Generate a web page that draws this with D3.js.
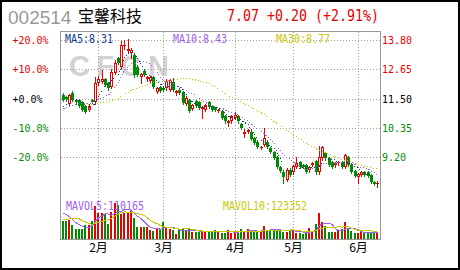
<!DOCTYPE html>
<html>
<head>
<meta charset="utf-8">
<script src="https://cdn.jsdelivr.net/npm/d3@7"></script>
<style>
body { margin: 0; background: #fff; }
svg { display: block; }
</style>
</head>
<body>
<div id="container"></div>
<script>
var WIDTH = 460,
	HEIGHT = 270,
	PLOT_LEFT = 60,
	PLOT_RIGHT = 380,
	PLOT_TOP = 31,
	PLOT_BOTTOM = 239;

var RED = '#e60000', GREEN = '#008c00';
var MONO = "'DejaVu Sans Mono', 'Liberation Mono', monospace";
var CJK = "'Noto Sans CJK SC', 'Noto Sans', sans-serif";

// daily prices, oldest first
var open = [11.62, 11.55, 11.28, 11.72, 11.45, 11.44, 11.36, 11.22, 11.05, 11.45,
	11.36, 12.10, 12.15, 12.25, 12.10, 11.95, 12.50, 13.10, 12.75, 13.55,
	13.35, 13.30, 13.20, 12.75, 12.35, 12.60, 12.28, 12.20, 12.35, 11.77,
	11.95, 11.90, 11.90, 11.85, 12.15, 11.70, 11.85, 11.75, 11.30, 11.45,
	11.10, 11.40, 11.35, 11.10, 11.05, 11.35, 11.20, 11.15, 11.00, 11.00,
	10.80, 10.55, 10.60, 10.72, 10.80, 10.50, 10.10, 10.20, 10.20, 9.95,
	9.80, 9.55, 9.68, 9.80, 9.55, 9.40, 9.20, 8.80, 8.62, 8.30,
	8.70, 8.60, 8.80, 9.00, 8.88, 8.88, 8.68, 8.90, 9.05, 8.60,
	9.15, 9.35, 9.15, 9.00, 8.88, 8.95, 9.00, 8.82, 9.20, 8.90,
	8.65, 8.40, 8.50, 8.60, 8.60, 8.49, 8.23, 8.14];
var high = [11.70, 11.60, 11.68, 11.78, 11.50, 11.48, 11.40, 11.25, 11.28, 11.50,
	12.35, 12.40, 12.62, 12.30, 12.15, 12.65, 13.00, 13.15, 13.75, 13.80,
	13.85, 13.50, 13.25, 12.80, 12.50, 12.65, 12.38, 12.40, 12.40, 11.95,
	12.00, 11.95, 12.25, 12.28, 12.30, 11.85, 11.90, 11.80, 11.58, 11.50,
	11.30, 11.45, 11.40, 11.22, 11.30, 11.40, 11.25, 11.18, 11.10, 11.05,
	10.85, 10.65, 10.85, 10.95, 10.85, 10.55, 10.30, 10.32, 10.25, 10.00,
	9.85, 9.65, 10.35, 9.85, 9.60, 9.45, 9.25, 8.85, 8.68, 8.75,
	8.78, 8.90, 9.20, 9.05, 8.92, 8.92, 8.85, 9.00, 9.10, 9.65,
	9.65, 9.40, 9.20, 9.05, 9.00, 9.05, 9.05, 9.32, 9.25, 8.95,
	8.70, 8.58, 8.66, 8.64, 8.63, 8.52, 8.26, 8.24];
var low = [11.40, 11.42, 11.22, 11.40, 11.30, 11.18, 11.00, 10.92, 11.00, 11.34,
	11.30, 12.02, 12.10, 11.98, 11.85, 11.90, 12.45, 12.85, 12.70, 13.45,
	13.30, 13.10, 12.35, 12.38, 12.10, 12.38, 12.20, 12.15, 11.90, 11.70,
	11.75, 11.78, 11.85, 11.80, 11.80, 11.65, 11.68, 11.28, 11.25, 10.95,
	11.05, 11.18, 11.08, 10.75, 11.00, 11.12, 11.00, 11.00, 10.95, 10.70,
	10.55, 10.40, 10.55, 10.68, 10.55, 10.30, 10.00, 10.15, 9.85, 9.70,
	9.55, 9.50, 9.62, 9.55, 9.35, 9.12, 8.75, 8.60, 8.18, 8.25,
	8.45, 8.55, 8.75, 8.75, 8.75, 8.58, 8.62, 8.85, 8.55, 8.55,
	9.10, 9.10, 8.85, 8.75, 8.82, 8.90, 8.75, 8.78, 8.85, 8.58,
	8.40, 8.18, 8.45, 8.46, 8.40, 8.18, 8.08, 8.02];
var close = [11.45, 11.48, 11.62, 11.45, 11.35, 11.22, 11.05, 10.98, 11.22, 11.38,
	12.10, 12.25, 12.25, 12.03, 11.90, 12.55, 12.90, 12.90, 13.60, 13.62,
	13.45, 13.40, 12.42, 12.42, 12.45, 12.42, 12.33, 12.35, 11.95, 11.90,
	11.80, 11.82, 12.20, 12.22, 11.85, 11.80, 11.72, 11.32, 11.52, 11.00,
	11.25, 11.22, 11.12, 11.18, 11.25, 11.15, 11.05, 11.05, 11.06, 10.75,
	10.60, 10.60, 10.80, 10.85, 10.60, 10.35, 10.20, 10.28, 9.90, 9.75,
	9.60, 9.60, 9.95, 9.60, 9.40, 9.17, 8.80, 8.65, 8.42, 8.70,
	8.50, 8.85, 8.95, 8.80, 8.80, 8.62, 8.80, 8.95, 8.60, 9.20,
	9.60, 9.15, 8.88, 8.80, 8.95, 9.00, 8.80, 9.28, 8.90, 8.62,
	8.45, 8.55, 8.62, 8.50, 8.45, 8.22, 8.12, 8.16];
var volume = [337000, 337000, 350000, 258000, 184000, 184000, 184000, 258000, 258000, 331000,
	607000, 473000, 473000, 454000, 276000, 502000, 657000, 626000, 460000, 478000,
	502000, 515000, 381000, 226000, 226000, 226000, 221000, 166000, 153000, 178000,
	190000, 313000, 221000, 184000, 166000, 92000, 166000, 178000, 166000, 178000,
	134000, 123000, 134000, 134000, 123000, 134000, 134000, 166000, 134000, 116000,
	116000, 166000, 116000, 123000, 116000, 184000, 134000, 184000, 134000, 134000,
	134000, 153000, 239000, 153000, 153000, 178000, 178000, 166000, 134000, 134000,
	166000, 166000, 105000, 105000, 92000, 134000, 197000, 153000, 276000, 473000,
	307000, 245000, 134000, 134000, 134000, 166000, 178000, 307000, 185000, 155000,
	105000, 105000, 134000, 105000, 116000, 105000, 105000, 120000];

// sessions before the window, only used by the moving averages
var prevClose = [11.70, 11.62, 11.55, 11.50, 11.60, 11.45, 11.38, 11.42, 11.30, 11.25,
	11.35, 11.28, 11.20, 11.15, 11.05, 10.98, 11.00, 10.95, 11.05, 11.10, 11.12, 11.20];
var prevVolume = [220000, 200000, 250000, 230000, 235000, 480000, 520000, 540000, 490000];

var priceTicks = [13.80, 12.65, 11.50, 10.35, 9.20];
var basePrice = 11.50;
var monthLabels = ['2月', '3月', '4月', '5月', '6月'];
var monthStart = [11, 31, 53, 71, 91];

var stockCode = '002514', stockName = '宝馨科技', quoteText = '7.07 +0.20 (+2.91%)';
var maLabels = ['MA5:8.31', 'MA10:8.43', 'MA30:8.77'];
var volLabels = ['MAVOL5:110165', 'MAVOL10:123352'];

var xBand = d3.scaleBand().domain(d3.range(close.length)).range([PLOT_LEFT + 1, PLOT_RIGHT - 1]);
var xc = function (i) { return Math.round(xBand(i) + xBand.bandwidth() / 2); };
var yPrice = d3.scaleLinear().domain([9.20, 13.80]).range([157, 40]);
var yVol = d3.scaleLinear().domain([0, 736000]).range([PLOT_BOTTOM, PLOT_BOTTOM - 40]);

function movingAverage(values, prev, n) {
	var all = prev.concat(values);
	return values.map(function (v, i) {
		var end = prev.length + i;
		if (end - n + 1 < 0) return null;
		return d3.mean(all.slice(end - n + 1, end + 1));
	});
}

// fixed-pitch text, squeezed to the cell width of the original bitmap font
function monoText(g, str, x, y, size, color, adv) {
	return g.append('text')
		.attr('x', x).attr('y', y)
		.attr('font-family', MONO).attr('font-size', size)
		.attr('fill', color)
		.attr('textLength', str.length * adv)
		.attr('lengthAdjust', 'spacingAndGlyphs')
		.text(str);
}

function drawHeader(svg) {
	svg.append('text').attr('x', 8).attr('y', 24)
		.attr('font-family', "'Liberation Sans', Arial, sans-serif").attr('font-size', 19)
		.attr('fill', '#999').text(stockCode);
	svg.append('text').attr('x', 78).attr('y', 22)
		.attr('font-family', CJK).attr('font-size', 16)
		.attr('fill', '#000').text(stockName);
	monoText(svg, quoteText, 227, 20.5, 16, RED, 8);
}

function drawGrid(svg) {
	svg.append('text').attr('x', 69).attr('y', 76)
		.attr('font-family', "'Liberation Sans', Arial, sans-serif")
		.attr('font-weight', 'bold').attr('font-size', 29)
		.attr('fill', '#d2d2d2')
		.attr('textLength', 100).attr('lengthAdjust', 'spacing')
		.text('CFCN');

	var grid = svg.append('g').attr('stroke', '#a0a0a0').attr('stroke-dasharray', '1,2')
		.attr('shape-rendering', 'crispEdges');
	grid.selectAll('line.h').data(priceTicks).enter().append('line')
		.attr('x1', PLOT_LEFT + 1).attr('x2', PLOT_RIGHT)
		.attr('y1', function (d) { return Math.round(yPrice(d)) + 0.5; })
		.attr('y2', function (d) { return Math.round(yPrice(d)) + 0.5; });
	grid.selectAll('line.v').data(monthStart).enter().append('line')
		.attr('y1', PLOT_TOP + 1).attr('y2', PLOT_BOTTOM)
		.attr('x1', function (d) { return xc(d) + 0.5; })
		.attr('x2', function (d) { return xc(d) + 0.5; });
}

function drawAxes(svg) {
	priceTicks.forEach(function (t) {
		var y = Math.round(yPrice(t)) + 4;
		var pct = (t - basePrice) / basePrice * 100;
		pct = Math.round(pct * 10) / 10;
		var color = pct > 0 ? RED : (pct < 0 ? GREEN : '#000');
		var label = (pct >= 0 ? '+' : '') + pct.toFixed(1) + '%';
		monoText(svg, label, 12.5, y, 11, color, 6);
		monoText(svg, t.toFixed(2), 382, y, 11, color, 6);
	});
	monthStart.forEach(function (idx, k) {
		svg.append('text').attr('x', xc(idx) + 0.5).attr('y', 252)
			.attr('text-anchor', 'middle')
			.attr('font-family', CJK).attr('font-size', 12)
			.attr('fill', '#000').text(monthLabels[k]);
	});
	svg.append('rect')
		.attr('x', PLOT_LEFT + 0.5).attr('y', PLOT_TOP + 0.5)
		.attr('width', PLOT_RIGHT - PLOT_LEFT).attr('height', PLOT_BOTTOM - PLOT_TOP)
		.attr('fill', 'none').attr('stroke', '#999');
}

function drawCandles(svg) {
	var g = svg.append('g');
	close.forEach(function (c, i) {
		var x = xc(i), up = c >= open[i];
		var color = up ? RED : GREEN;
		var top = Math.round(yPrice(Math.max(open[i], c)));
		var bot = Math.round(yPrice(Math.min(open[i], c)));
		g.append('line')
			.attr('x1', x + 0.5).attr('x2', x + 0.5)
			.attr('y1', Math.round(yPrice(high[i]))).attr('y2', Math.round(yPrice(low[i])) + 1)
			.attr('stroke', color);
		if (bot - top < 2) {
			g.append('rect').attr('x', x - 1).attr('y', top).attr('width', 3).attr('height', Math.max(bot - top, 1))
				.attr('fill', color);
		} else if (up) {
			g.append('rect').attr('x', x - 0.5).attr('y', top + 0.5).attr('width', 2).attr('height', bot - top - 1)
				.attr('fill', '#fff').attr('stroke', color);
		} else {
			g.append('rect').attr('x', x - 1).attr('y', top).attr('width', 3).attr('height', bot - top)
				.attr('fill', color);
		}
	});
}

function drawVolume(svg) {
	svg.append('g').selectAll('rect').data(volume).enter().append('rect')
		.attr('x', function (d, i) { return xc(i) - 1; })
		.attr('width', 2)
		.attr('y', function (d) { return Math.round(yVol(d)); })
		.attr('height', function (d) { return PLOT_BOTTOM - Math.round(yVol(d)); })
		.attr('fill', function (d, i) { return close[i] >= open[i] ? RED : GREEN; });

	var line = d3.line()
		.defined(function (d) { return d != null; })
		.x(function (d, i) { return xc(i) + 0.5; })
		.y(function (d) { return yVol(d); });
	[[5, '#a060f0'], [10, '#c8c800']].forEach(function (m) {
		svg.append('path').attr('d', line(movingAverage(volume, prevVolume, m[0])))
			.attr('fill', 'none').attr('stroke', m[1]).attr('stroke-width', 1)
			.attr('shape-rendering', 'crispEdges');
	});
	monoText(svg, volLabels[0], 66, 210, 11.5, '#a060f0', 6);
	monoText(svg, volLabels[1], 223, 210, 11.5, '#c8c800', 6);
}

function drawMA(svg) {
	var line = d3.line()
		.defined(function (d) { return d != null; })
		.x(function (d, i) { return xc(i) + 0.5; })
		.y(function (d) { return yPrice(d); });
	[[30, '#c8c800'], [10, '#a060f0'], [5, '#0a3c8c']].forEach(function (m) {
		svg.append('path').attr('d', line(movingAverage(close, prevClose, m[0])))
			.attr('fill', 'none').attr('stroke', m[1]).attr('stroke-width', 1)
			.attr('stroke-dasharray', '1,2')
			.attr('shape-rendering', 'crispEdges');
	});
	monoText(svg, maLabels[0], 65, 42.5, 12, '#0a3c8c', 6);
	monoText(svg, maLabels[1], 173, 42.5, 12, '#a060f0', 6);
	monoText(svg, maLabels[2], 276, 42.5, 12, '#c8c800', 6);
}

function visualize() {
	var svg = d3.select('#container').append('svg')
		.attr('width', WIDTH).attr('height', HEIGHT);
	svg.append('rect').attr('width', WIDTH).attr('height', HEIGHT).attr('fill', '#fff');
	drawHeader(svg);
	drawGrid(svg);
	drawVolume(svg);
	drawCandles(svg);
	drawMA(svg);
	drawAxes(svg);
	svg.append('rect').attr('x', 1).attr('y', 1).attr('width', WIDTH - 2).attr('height', HEIGHT - 2)
		.attr('fill', 'none').attr('stroke', '#000').attr('stroke-width', 2);
}

window.onload = visualize;
</script>
</body>
</html>
